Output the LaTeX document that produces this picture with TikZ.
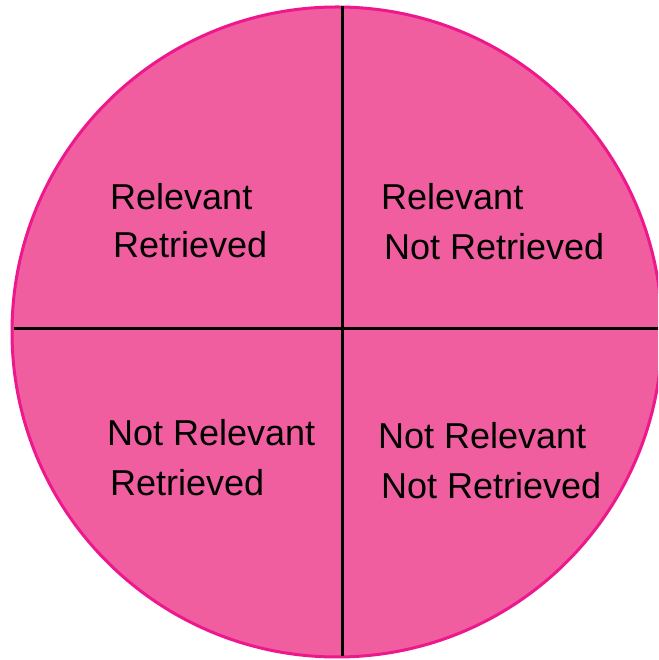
\documentclass[tikz,border=0pt]{standalone}
\usepackage{fontspec}
\setmainfont{Liberation Sans}
\definecolor{diskfill}{RGB}{240,94,160}
\definecolor{diskedge}{RGB}{236,24,140}
\tikzset{
  lbl/.style={anchor=base west, inner sep=0pt, font=\fontsize{36}{40}\selectfont, text=black},
  divider/.style={line width=3pt, black}
}
\begin{document}
\begin{tikzpicture}[x=1pt,y=1pt]
\useasboundingbox (0,0) rectangle (658,660);
\begin{scope}
\clip (0,0) rectangle (658,660);
\fill[diskfill] (337,328) circle (325);
\draw[diskedge, line width=3pt] (337,328) circle (325);
\end{scope}
\coordinate (vtop) at (342,654);
\coordinate (vbot) at (342,4);
\coordinate (hl) at (14,331);
\coordinate (hr) at (658,331);
\draw[divider] (vtop) -- (vbot);
\draw[divider] (hl) -- (hr);
\node[lbl] (a1) at (110,450) {Relevant};
\node[lbl] (a2) at (113,402) {Retrieved};
\node[lbl] (b1) at (381,450) {Relevant};
\node[lbl] (b2) at (384,400) {Not Retrieved};
\node[lbl] (c1) at (107,214) {Not Relevant};
\node[lbl] (c2) at (110,164) {Retrieved};
\node[lbl] (d1) at (378,211) {Not Relevant};
\node[lbl] (d2) at (381,161) {Not Retrieved};
\end{tikzpicture}
\end{document}
